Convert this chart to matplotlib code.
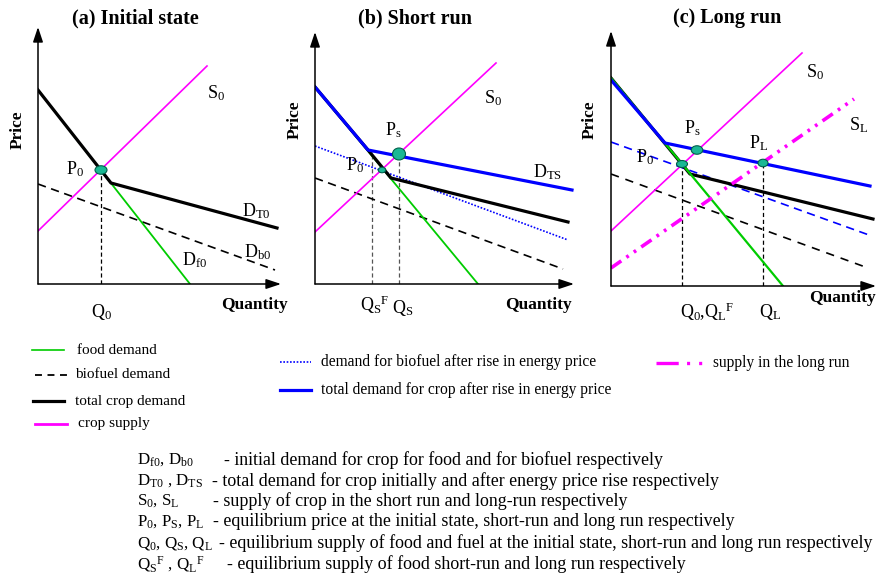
import matplotlib
matplotlib.use("Agg")
import matplotlib.pyplot as plt
from matplotlib.patches import Ellipse

plt.rcParams['font.family'] = ['Liberation Serif', 'DejaVu Serif']
plt.rcParams['mathtext.fontset'] = 'custom'
plt.rcParams['mathtext.rm'] = 'Liberation Serif'
plt.rcParams['mathtext.it'] = 'Liberation Serif:italic'
plt.rcParams['mathtext.bf'] = 'Liberation Serif:bold'
plt.rcParams['lines.scale_dashes'] = False

# --- datos de los diagramas (cantidad, precio) en unidades arbitrarias ---
# (a) estado inicial
a_food_q, a_food_p = [0, 15.2], [19.4, 0]
a_total_q, a_total_p = [0, 7.3, 23.9], [19.4, 10.1, 5.6]
a_bio_q, a_bio_p = [0, 23.7], [10.0, 1.4]
a_sup_q, a_sup_p = [0, 16.9], [5.3, 21.8]
a_eq0 = (6.3, 11.4)

# (b) corto plazo
b_food_q, b_food_p = [0, 16.3], [19.7, 0]
b_total0_q, b_total0_p = [0, 5.3, 7.6, 25.3], [19.7, 13.4, 10.6, 6.2]
b_totalS_q, b_totalS_p = [0, 5.3, 25.7], [19.7, 13.4, 9.4]
b_bioS_q, b_bioS_p = [0, 25.3], [13.8, 4.4]
b_bio0_q, b_bio0_p = [0, 24.8], [10.6, 1.5]
b_sup_q, b_sup_p = [0, 18.1], [5.2, 22.1]
b_eq0 = (6.7, 11.4)
b_eqS = (8.4, 13.0)
b_qsf = (5.7, 13.3)

# (c) largo plazo
c_food_q, c_food_p = [0, 17.2], [20.8, 0]
c_total0_q, c_total0_p = [0, 7.9, 26.2], [20.8, 11.2, 6.7]
c_totalS_q, c_totalS_p = [0, 5.4, 25.9], [20.6, 14.3, 10.0]
c_bioS_q, c_bioS_p = [0, 25.8], [14.4, 5.1]
c_bio0_q, c_bio0_p = [0, 25.7], [11.2, 1.8]
c_sup0_q, c_sup0_p = [0, 19.1], [5.5, 23.3]
c_supL_q, c_supL_p = [0, 24.3], [1.8, 18.7]
c_eq0 = (7.1, 12.2)
c_eqS = (8.6, 13.6)
c_eqL = (15.2, 12.3)

legend_left = ["food demand", "biofuel demand", "total crop demand", "crop supply"]
legend_mid = ["demand for biofuel after rise in energy price",
              "total demand for crop after rise in energy price"]
legend_right = ["supply in the long run"]

symbols = [r"D$_{\mathrm{f0}}$, D$_{\mathrm{b0}}$",
           r"D$_{\mathrm{T0}}$ , D$_{\mathrm{TS}}$",
           r"S$_{0}$, S$_{\mathrm{L}}$",
           r"P$_{0}$, P$_{\mathrm{S}}$, P$_{\mathrm{L}}$",
           r"Q$_{0}$, Q$_{\mathrm{S}}$, Q$_{\mathrm{L}}$",
           r"Q$_{\mathrm{S}}$$^{\mathrm{F}}$ , Q$_{\mathrm{L}}$$^{\mathrm{F}}$"]
descriptions = ["- initial demand for crop for food and for biofuel respectively",
                "- total demand for crop initially and after energy price rise respectively",
                "- supply of crop in the short run and long-run respectively",
                "- equilibrium price at the initial state, short-run and long run respectively",
                "- equilibrium supply of food and fuel at the initial state, short-run and long run respectively",
                "- equilibrium supply of food short-run and long run respectively"]

GREEN = '#00cc00'
MAGENTA = '#ff00ff'
BLUE = '#0000ff'
DOT = '#1ab894'
DOTEDGE = '#00604a'
SL_DASH = (0, (9, 4.5, 2, 4.5, 2, 4.5))

W, H = 877, 580
fig = plt.figure(figsize=(W / 100, H / 100), dpi=100)
bg = fig.add_axes([0, 0, 1, 1])
bg.set_xlim(0, W)
bg.set_ylim(H, 0)
bg.axis('off')


def panel(ox, oy, tx, ty):
    ax = fig.add_axes([ox / W, 1 - oy / H, (tx - ox) / W, (oy - ty) / H])
    xm, ym = (tx - ox) / 10, (oy - ty) / 10
    ax.set_xlim(0, xm)
    ax.set_ylim(0, ym)
    ax.axis('off')
    arrow = dict(arrowstyle='-|>,head_length=0.9,head_width=0.3', lw=1.1,
                 color='black', shrinkA=0, shrinkB=0)
    ax.annotate('', xy=(xm, 0), xytext=(0, 0), arrowprops=arrow)
    ax.annotate('', xy=(0, ym), xytext=(0, 0), arrowprops=arrow)
    return ax


def dot(ax, pt, w, h):
    ax.add_patch(Ellipse(pt, w, h, facecolor=DOT, edgecolor=DOTEDGE, lw=0.8, zorder=10))


def vline(ax, pt, color='black'):
    ax.plot([pt[0], pt[0]], [0, pt[1]], color=color, lw=0.9, ls=(0, (3, 2)), zorder=1)


def lab(ax, x, y, s, size=13, **kw):
    ax.text(x, y, s, fontsize=size, ha='center', va='center', clip_on=False, **kw)


def axis_labels(ax, qx, qy, px, py):
    lab(ax, qx, qy, "Quantity", size=12.5, fontweight='bold')
    lab(ax, px, py, "Price", size=12.5, fontweight='bold', rotation=90)


# ---------- (a) ----------
ax = panel(38, 284, 281, 27)
ax.plot(a_bio_q, a_bio_p, color='black', lw=1.2, ls=(0, (6, 4)))
ax.plot(a_food_q, a_food_p, color=GREEN, lw=1.3)
ax.plot(a_total_q, a_total_p, color='black', lw=2.3)
ax.plot(a_sup_q, a_sup_p, color=MAGENTA, lw=1.2)
vline(ax, a_eq0)
dot(ax, a_eq0, 1.2, 0.85)
lab(ax, 9.7, 26.6, "(a) Initial state", size=14.5, fontweight='bold')
lab(ax, 17.8, 19.1, r"S$_0$")
lab(ax, 3.7, 11.5, r"P$_0$")
lab(ax, 21.8, 7.3, r"D$_{\mathrm{T0}}$")
lab(ax, 22.0, 3.2, r"D$_{\mathrm{b0}}$")
lab(ax, 15.7, 2.4, r"D$_{\mathrm{f0}}$")
lab(ax, 6.4, -2.8, r"Q$_0$")
axis_labels(ax, 21.7, -2.1, -2.0, 15.4)

# ---------- (b) ----------
ax = panel(315, 284, 574, 32)
ax.plot(b_bio0_q, b_bio0_p, color='black', lw=1.2, ls=(0, (6, 4)))
ax.plot(b_bioS_q, b_bioS_p, color=BLUE, lw=1.2, ls=(0, (1.2, 1.2)))
ax.plot(b_food_q, b_food_p, color=GREEN, lw=1.3)
ax.plot(b_total0_q, b_total0_p, color='black', lw=2.3)
ax.plot(b_totalS_q, b_totalS_p, color=BLUE, lw=2.3)
ax.plot(b_sup_q, b_sup_p, color=MAGENTA, lw=1.2)
vline(ax, b_qsf, color='#555555')
vline(ax, b_eqS, color='#555555')
dot(ax, b_eq0, 0.75, 0.55)
dot(ax, b_eqS, 1.3, 1.2)
lab(ax, 10.0, 26.6, "(b) Short run", size=14.5, fontweight='bold')
lab(ax, 17.8, 18.6, r"S$_0$")
lab(ax, 7.8, 15.4, r"P$_{\mathrm{s}}$")
lab(ax, 4.0, 11.9, r"P$_0$")
lab(ax, 23.3, 11.2, r"D$_{\mathrm{TS}}$")
lab(ax, 6.0, -2.1, r"Q$_{\mathrm{S}}$$^{\mathrm{F}}$")
lab(ax, 8.8, -2.4, r"Q$_{\mathrm{S}}$")
axis_labels(ax, 22.3, -2.1, -2.0, 16.4)

# ---------- (c) ----------
ax = panel(611, 286, 876, 31)
ax.plot(c_bio0_q, c_bio0_p, color='black', lw=1.2, ls=(0, (6, 5)))
ax.plot(c_bioS_q, c_bioS_p, color=BLUE, lw=1.2, ls=(0, (6, 4)))
ax.plot(c_total0_q, c_total0_p, color='black', lw=2.3)
ax.plot(c_food_q, c_food_p, color=GREEN, lw=1.6)
ax.plot(c_totalS_q, c_totalS_p, color=BLUE, lw=2.3)
ax.plot(c_sup0_q, c_sup0_p, color=MAGENTA, lw=1.2)
ax.plot(c_supL_q, c_supL_p, color=MAGENTA, lw=2.6, ls=SL_DASH)
vline(ax, c_eq0)
vline(ax, c_eqL)
dot(ax, c_eq0, 1.1, 0.7)
dot(ax, c_eqS, 1.15, 0.85)
dot(ax, c_eqL, 1.0, 0.75)
lab(ax, 11.6, 26.8, "(c) Long run", size=14.5, fontweight='bold')
lab(ax, 20.4, 21.4, r"S$_0$")
lab(ax, 24.8, 16.1, r"S$_{\mathrm{L}}$")
lab(ax, 8.1, 15.8, r"P$_{\mathrm{s}}$")
lab(ax, 14.8, 14.3, r"P$_{\mathrm{L}}$")
lab(ax, 3.4, 12.9, r"P$_0$")
lab(ax, 9.6, -2.6, r"Q$_0$,Q$_{\mathrm{L}}$$^{\mathrm{F}}$")
lab(ax, 15.9, -2.6, r"Q$_{\mathrm{L}}$")
axis_labels(ax, 23.2, -1.2, -2.1, 16.6)

# ---------- leyenda ----------
left_styles = [dict(color=GREEN, lw=1.2), dict(color='black', lw=1.3, ls=(0, (5, 4))),
               dict(color='black', lw=2.3), dict(color=MAGENTA, lw=2.0)]
left_x = [(32, 64, 77), (35, 67, 75), (33, 64, 75), (35, 67, 78)]
left_y = [350, 375, 401, 424]
for name, st, xs, y in zip(legend_left, left_styles, left_x, left_y):
    bg.plot([xs[0], xs[1]], [y, y], **st)
    bg.text(xs[2], y, name, fontsize=11, va='center')

mid_styles = [dict(color=BLUE, lw=1.2, ls=(0, (1.2, 1.2))), dict(color=BLUE, lw=2.3)]
mid_y = [362, 390]
for name, st, y in zip(legend_mid, mid_styles, mid_y):
    bg.plot([280, 311], [y, y], **st)
    bg.text(321, y, name, fontsize=11.2, va='center')

bg.plot([656, 703], [363, 363], color=MAGENTA, lw=2.4, ls=(0, (16, 6, 2.2, 6.5, 2.2, 20)))
bg.text(713, 363, legend_right[0], fontsize=11.2, va='center')

# ---------- notas ----------
row_y = [460, 481, 501, 522, 543, 564]
desc_x = [224, 212, 213, 213, 219, 227]
for s, d, y, dx in zip(symbols, descriptions, row_y, desc_x):
    bg.text(137, y, s, fontsize=12.2, va='center')
    bg.text(dx, y, d, fontsize=12.9, va='center')

fig.savefig("out.png", dpi=100)
